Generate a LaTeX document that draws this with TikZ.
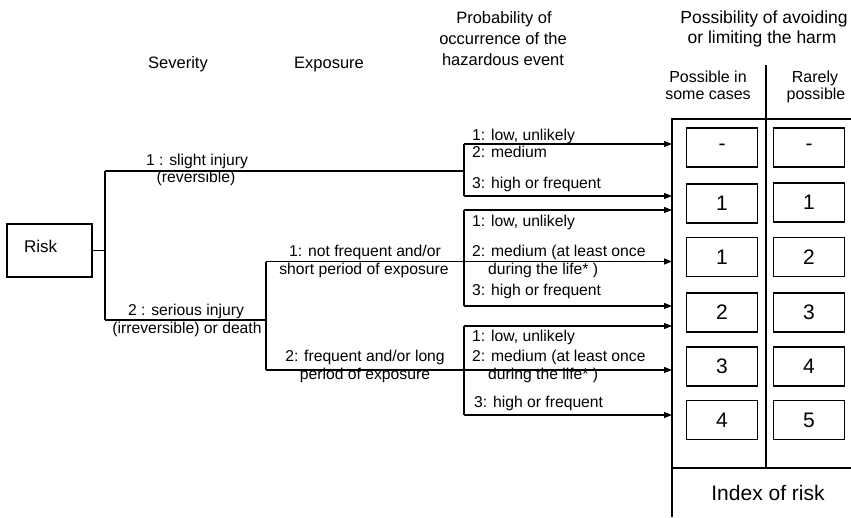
\documentclass[tikz,border=0pt]{standalone}
\usepackage{fontspec}
\setmainfont{Liberation Sans}
\usetikzlibrary{arrows.meta}
\begin{document}
\begin{tikzpicture}[x=1pt,y=-1pt,
  line/.style={line width=1.3pt},
  arr/.style={line width=1.3pt,-{Triangle[length=8pt,width=6pt]}},
  lbl/.style={font=\fontsize{15.7}{18}\selectfont,inner sep=0pt,anchor=base},
  lbll/.style={lbl,anchor=base west},
  head/.style={font=\fontsize{16.5}{20}\selectfont,inner sep=0pt,anchor=base},
  subhead/.style={font=\fontsize{16}{19}\selectfont,inner sep=0pt,anchor=base},
  idx/.style={draw,line width=1.3pt,minimum width=71pt,minimum height=39pt,
    inner sep=0pt,font=\fontsize{21}{24}\selectfont},
]
\useasboundingbox (0,0) rectangle (851,517);

% column headings
\node[head] (hsev) at (178,68) {Severity};
\node[head] (hexp) at (329,68) {Exposure};
\node[head] (hprob1) at (504,23) {Probability of};
\node[head] (hprob2) at (503,44) {occurrence of the};
\node[head] (hprob3) at (503,65) {hazardous event};
\node[head,font=\fontsize{17.5}{20}\selectfont] (havo1) at (764,23) {Possibility of avoiding};
\node[head,font=\fontsize{17.5}{20}\selectfont] (havo2) at (762,43) {or limiting the harm};
\node[subhead] (hpos1) at (708,82) {Possible in};
\node[subhead] (hpos2) at (708,99) {some cases};
\node[subhead] (hrar1) at (815,82) {Rarely};
\node[subhead] (hrar2) at (816,99) {possible};

% root
\node[draw,line width=1.3pt,minimum height=53pt,text width=51pt,inner xsep=17pt,
  align=left,text depth=9pt,font=\fontsize{17}{20}\selectfont] (risk) at (49.5,250.5) {Risk};

% severity branches
\coordinate (sev) at (105,250.5);
\coordinate (sev1) at (105,171);
\coordinate (sev2) at (105,320);
\coordinate (g1m) at (464,171);
\coordinate (exp) at (266,320);
\draw[line] (risk.east) -- (sev);
\draw[line] (sev1) -- (sev2);
\draw[line] (sev1) -- (g1m);
\draw[line] (sev2) -- (exp);
\node[lbl] (s1a) at (197,165) {1 : slight injury};
\node[lbl] (s1b) at (196,182) {(reversible)};
\node[lbl] (s2a) at (186,315) {2 : serious injury};
\node[lbl] (s2b) at (187,333) {(irreversible) or death};

% exposure branches
\coordinate (exp1) at (266,261.5);
\coordinate (exp2) at (266,370);
\draw[line] (exp1) -- (exp2);
\node[lbl] (e1a) at (365,256) {1: not frequent and/or};
\node[lbl] (e1b) at (364,274) {short period of exposure};
\node[lbl] (e2a) at (365,361) {2: frequent and/or long};
\node[lbl] (e2b) at (365,379) {period of exposure};

% table frame
\coordinate (tl) at (672,119);
\coordinate (tr) at (851,119);
\coordinate (bl) at (672,517);
\coordinate (mt) at (766,65);
\coordinate (mb) at (766,468);
\coordinate (fl) at (672,468);
\coordinate (fr) at (851,468);
\draw[line] (bl) -- (tl) -- (tr);
\draw[line] (mt) -- (mb);
\draw[line] (fl) -- (fr);

% probability branches
\coordinate (g1a) at (464,144);
\coordinate (g1c) at (464,196);
\draw[line] (g1a) -- (g1c);
\draw[arr] (g1a) -- (g1a -| tl);
\draw[arr] (g1c) -- (g1c -| tl);
\node[lbll] (p11) at (472,140) {1: low, unlikely};
\node[lbll] (p12) at (472,157) {2: medium};
\node[lbll] (p13) at (472,188) {3: high or frequent};

\coordinate (g2a) at (464,210);
\coordinate (g2c) at (464,306);
\draw[line] (g2a) -- (g2c);
\draw[arr] (g2a) -- (g2a -| tl);
\draw[arr] (exp1) -- (exp1 -| tl);
\draw[arr] (g2c) -- (g2c -| tl);
\node[lbll] (p21) at (472,226) {1: low, unlikely};
\node[lbll] (p22) at (472,256) {2: medium (at least once};
\node[lbll] (p22b) at (488,274) {during the life* )};
\node[lbll] (p23) at (472,295) {3: high or frequent};

\coordinate (g3a) at (464,326);
\coordinate (g3c) at (464,415);
\draw[line] (g3a) -- (g3c);
\draw[arr] (g3a) -- (g3a -| tl);
\draw[arr] (exp2) -- (exp2 -| tl);
\draw[arr] (g3c) -- (g3c -| tl);
\node[lbll] (p31) at (472,341) {1: low, unlikely};
\node[lbll] (p32) at (472,361) {2: medium (at least once};
\node[lbll] (p32b) at (488,379) {during the life* )};
\node[lbll] (p33) at (474,407) {3: high or frequent};

% index of risk values
\node[idx] (i11) at (722,147.5) {-};
\node[idx] (i12) at (809,147.5) {-};
\node[idx] (i21) at (722,203.5) {1};
\node[idx] (i22) at (809,202.5) {1};
\node[idx] (i31) at (722,257) {1};
\node[idx] (i32) at (809,257) {2};
\node[idx] (i41) at (722,312.5) {2};
\node[idx] (i42) at (809,312.5) {3};
\node[idx] (i51) at (722,366.5) {3};
\node[idx] (i52) at (809,366.5) {4};
\node[idx] (i61) at (722,420) {4};
\node[idx] (i62) at (809,420) {5};

\node[inner sep=0pt,anchor=base,font=\fontsize{21}{24}\selectfont] (index) at (768,500) {Index of risk};
\end{tikzpicture}
\end{document}
